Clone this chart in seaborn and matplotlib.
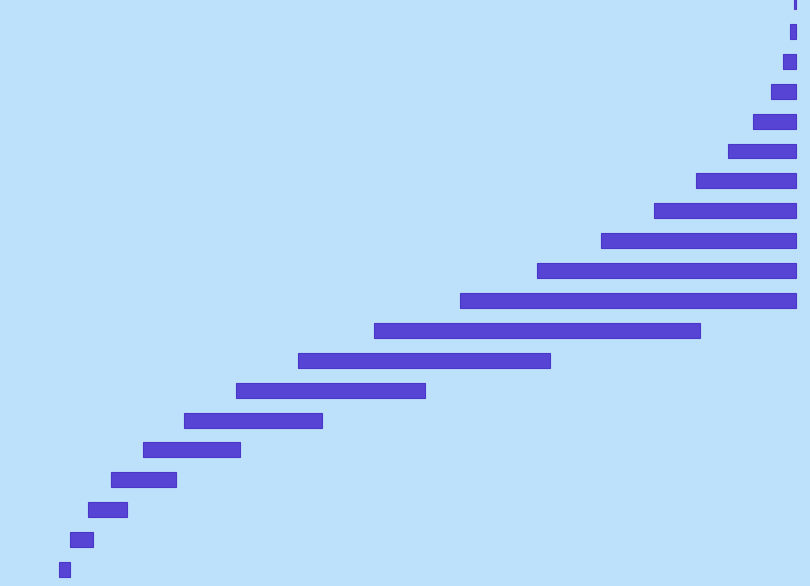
import matplotlib
matplotlib.use('Agg')
import matplotlib.pyplot as plt
import seaborn as sns
import pandas as pd

# floating bars: each row runs from start to end (percent of the common end point)
rows = [f'r{i:02d}' for i in range(20)]
starts = [99.8, 99.3, 98.4, 96.9, 94.6, 91.5, 87.4, 82.1, 75.5, 67.5,
          57.8, 47.0, 37.5, 29.6, 23.1, 18.0, 13.9, 11.0, 8.8, 7.4]
ends = [100.0, 100.0, 100.0, 100.0, 100.0, 100.0, 100.0, 100.0, 100.0, 100.0,
        100.0, 88.0, 69.1, 53.4, 40.4, 30.1, 22.1, 16.0, 11.7, 8.8]

BG = '#bde0fb'
BAR = '#5744d5'
EDGE = '#4a36c8'

df = pd.DataFrame({'row': rows, 'start': starts, 'end': ends})
df['span'] = df['end'] - df['start']

sns.set_theme(style='white')
fig = plt.figure(figsize=(8.1, 5.86), dpi=100, facecolor=BG)
ax = fig.add_axes([0, 0, 1, 1])
ax.set_facecolor(BG)

sns.barplot(data=df, x='span', y='row', orient='y', color=BAR, saturation=1,
            width=0.5, edgecolor=EDGE, linewidth=0.8, left=df['start'].to_numpy(),
            ax=ax)

ax.set_xlim(0, 101.76)
ax.set_ylim(19.55, -0.05)
ax.axis('off')

fig.savefig('out.png', dpi=100, facecolor=BG)
